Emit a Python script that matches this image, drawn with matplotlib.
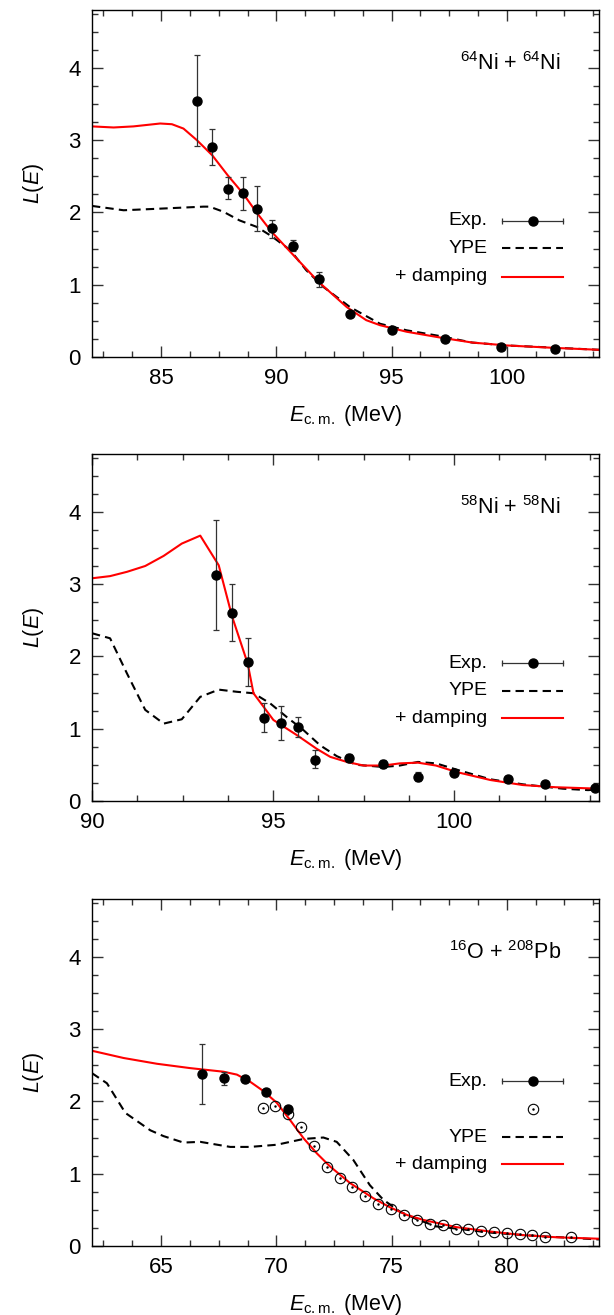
import matplotlib
matplotlib.use('Agg')
import matplotlib.pyplot as plt
from matplotlib.ticker import MultipleLocator

plt.rcParams['font.family'] = ['Liberation Sans', 'DejaVu Sans']
plt.rcParams['mathtext.fontset'] = 'custom'
plt.rcParams['mathtext.rm'] = 'Liberation Sans'
plt.rcParams['mathtext.it'] = 'Liberation Sans:italic'

# ---- 64Ni + 64Ni ----
ni64_exp_e = [86.55, 87.22, 87.9, 88.56, 89.14, 89.8, 90.74, 91.83, 93.2, 95.03, 97.33, 99.75, 102.1]
ni64_exp_l = [3.54, 2.91, 2.33, 2.27, 2.05, 1.78, 1.54, 1.075, 0.59, 0.38, 0.25, 0.135, 0.11]
ni64_exp_lo = [0.62, 0.26, 0.15, 0.24, 0.31, 0.13, 0.07, 0.10, 0.02, 0.01, 0.01, 0.01, 0.01]
ni64_exp_hi = [0.64, 0.25, 0.16, 0.22, 0.32, 0.12, 0.08, 0.10, 0.02, 0.01, 0.01, 0.01, 0.01]

ni64_dmp_e = [82.0, 82.94, 83.8, 84.96, 85.47, 85.97, 86.55, 87.22, 87.9, 88.56, 89.14, 89.8,
              90.74, 91.83, 93.06, 93.9, 94.5, 95.65, 97.1, 98.5, 100.0, 102.16, 104.0]
ni64_dmp_l = [3.19, 3.175, 3.19, 3.23, 3.22, 3.16, 3.0, 2.79, 2.51, 2.26, 2.0, 1.73,
              1.41, 1.04, 0.69, 0.51, 0.44, 0.35, 0.27, 0.2, 0.16, 0.125, 0.10]

ni64_ype_e = [82.0, 83.37, 84.8, 86.84, 87.1, 87.7, 88.4, 89.15, 89.8, 90.6, 91.3, 92.04,
              93.2, 94.5, 95.65, 97.1, 98.5, 100.0, 104.0]
ni64_ype_l = [2.09, 2.03, 2.05, 2.08, 2.08, 2.01, 1.89, 1.8, 1.67, 1.48, 1.2, 0.97,
              0.69, 0.46, 0.37, 0.29, 0.2, 0.16, 0.10]

# ---- 58Ni + 58Ni ----
ni58_exp_e = [93.43, 93.87, 94.31, 94.75, 95.22, 95.68, 96.15, 97.09, 98.05, 99.0, 100.0, 101.5, 102.5, 103.9]
ni58_exp_l = [3.12, 2.60, 1.92, 1.15, 1.08, 1.02, 0.57, 0.595, 0.51, 0.33, 0.38, 0.31, 0.23, 0.185]
ni58_exp_lo = [0.75, 0.39, 0.33, 0.20, 0.23, 0.14, 0.12, 0.055, 0.06, 0.06, 0.03, 0.03, 0.03, 0.03]
ni58_exp_hi = [0.76, 0.40, 0.33, 0.20, 0.23, 0.14, 0.13, 0.06, 0.06, 0.07, 0.03, 0.03, 0.03, 0.03]

ni58_dmp_e = [90.0, 90.5, 90.97, 91.47, 91.98, 92.48, 92.99, 93.5, 93.87, 94.3, 94.46, 95.01, 95.66,
              96.21, 96.58, 97.04, 97.5, 98.05, 98.5, 99.0, 99.5, 100.07, 101.0, 101.9, 102.8, 104.0]
ni58_dmp_l = [3.08, 3.11, 3.17, 3.25, 3.39, 3.56, 3.67, 3.26, 2.55, 1.9, 1.49, 1.12, 0.91,
              0.72, 0.61, 0.54, 0.49, 0.49, 0.52, 0.53, 0.49, 0.40, 0.29, 0.22, 0.19, 0.17]

ni58_ype_e = [90.0, 90.5, 90.97, 91.47, 91.98, 92.48, 92.99, 93.5, 94.0, 94.46, 94.92, 95.38, 95.84,
              96.3, 96.76, 97.3, 98.05, 98.5, 99.0, 99.5, 100.16, 101.0, 101.9, 103.0, 103.7, 104.0]
ni58_ype_l = [2.32, 2.25, 1.76, 1.26, 1.07, 1.13, 1.44, 1.54, 1.51, 1.49, 1.35, 1.16, 0.98,
              0.77, 0.62, 0.50, 0.47, 0.49, 0.54, 0.52, 0.42, 0.30, 0.23, 0.17, 0.15, 0.16]

# ---- 16O + 208Pb ----
opb_exp_e = [66.77, 67.71, 68.62, 69.54, 70.5]
opb_exp_l = [2.38, 2.32, 2.31, 2.13, 1.90]
opb_exp_lo = [0.41, 0.10, 0.04, 0.03, 0.03]
opb_exp_hi = [0.42, 0.08, 0.04, 0.03, 0.03]

opb_exp2_e = [69.4, 69.96, 70.51, 71.09, 71.65, 72.19, 72.75, 73.3, 73.85, 74.41, 74.98, 75.53,
              76.09, 76.67, 77.22, 77.78, 78.33, 78.89, 79.44, 80.0, 80.56, 81.1, 81.67, 82.78]
opb_exp2_l = [1.91, 1.94, 1.82, 1.65, 1.38, 1.09, 0.94, 0.82, 0.69, 0.58, 0.51, 0.43,
              0.36, 0.31, 0.29, 0.24, 0.235, 0.21, 0.19, 0.175, 0.16, 0.15, 0.125, 0.12]

opb_dmp_e = [62.0, 63.37, 64.82, 66.26, 67.71, 68.29, 68.87, 69.45, 70.02, 70.6, 71.18, 71.76,
             72.33, 73.2, 74.21, 74.93, 75.66, 76.38, 77.82, 79.27, 80.71, 82.16, 84.0]
opb_dmp_l = [2.70, 2.60, 2.52, 2.46, 2.41, 2.37, 2.27, 2.14, 1.98, 1.74, 1.49, 1.28,
             1.10, 0.87, 0.66, 0.535, 0.43, 0.36, 0.26, 0.20, 0.15, 0.12, 0.10]

opb_ype_e = [62.0, 62.65, 63.45, 64.53, 65.1, 65.97, 66.7, 68.0, 68.86, 70.02, 71.18, 72.04, 72.62,
             73.34, 74.06, 74.64, 75.36, 76.09, 76.95, 77.82, 79.27, 80.71, 82.88, 84.0]
opb_ype_l = [2.39, 2.25, 1.84, 1.60, 1.52, 1.43, 1.44, 1.37, 1.37, 1.40, 1.48, 1.50, 1.44,
             1.19, 0.84, 0.64, 0.475, 0.37, 0.27, 0.24, 0.185, 0.15, 0.11, 0.09]

RED = '#ff0000'
ECOL = '#333333'
DASH = (4, 2.5)

fig = plt.figure(figsize=(6.14, 13.15), dpi=100)
bottoms = [0.7285, 0.3909, 0.0525]
panels = [
    dict(title=r'$^{64}$Ni + $^{64}$Ni', xlim=(82, 104),
         exp=(ni64_exp_e, ni64_exp_l, ni64_exp_lo, ni64_exp_hi), exp2=None,
         dmp=(ni64_dmp_e, ni64_dmp_l), ype=(ni64_ype_e, ni64_ype_l), leg_y=[0.392, 0.314, 0.231]),
    dict(title=r'$^{58}$Ni + $^{58}$Ni', xlim=(90, 104),
         exp=(ni58_exp_e, ni58_exp_l, ni58_exp_lo, ni58_exp_hi), exp2=None,
         dmp=(ni58_dmp_e, ni58_dmp_l), ype=(ni58_ype_e, ni58_ype_l), leg_y=[0.397, 0.318, 0.238]),
    dict(title=r'$^{16}$O + $^{208}$Pb', xlim=(62, 84),
         exp=(opb_exp_e, opb_exp_l, opb_exp_lo, opb_exp_hi), exp2=(opb_exp2_e, opb_exp2_l),
         dmp=(opb_dmp_e, opb_dmp_l), ype=(opb_ype_e, opb_ype_l), leg_y=[0.474, 0.394, 0.313, 0.236]),
]

for b, p in zip(bottoms, panels):
    ax = fig.add_axes([0.1498, b, 0.8257, 0.2639])
    ax.plot(*p['ype'], color='black', lw=1.5, dashes=DASH)
    ax.plot(*p['dmp'], color=RED, lw=1.5)
    e, l, lo, hi = p['exp']
    ax.errorbar(e, l, yerr=[lo, hi], fmt='none', ecolor=ECOL, elinewidth=0.9, capsize=2.5, capthick=0.9)
    ax.plot(e, l, 'o', color='black', ms=6.5, zorder=5)
    if p['exp2'] is not None:
        ax.plot(*p['exp2'], 'o', mfc='none', mec='black', mew=0.8, ms=7.5, zorder=4)
        ax.plot(*p['exp2'], '.', color='black', ms=1.5, zorder=4)

    ax.set_xlim(*p['xlim'])
    ax.set_ylim(0, 4.8)
    ax.xaxis.set_major_locator(MultipleLocator(5))
    ax.xaxis.set_minor_locator(MultipleLocator(1.25))
    ax.yaxis.set_major_locator(MultipleLocator(1))
    ax.yaxis.set_minor_locator(MultipleLocator(0.25))
    ax.tick_params(which='both', direction='in', top=True, right=True, labelsize=16, color='#333333')
    ax.tick_params(which='major', length=8, width=1.0, pad=8)
    ax.tick_params(which='minor', length=4, width=1.0)
    ax.set_yticks([0, 1, 2, 3, 4])
    for s in ax.spines.values():
        s.set_linewidth(1.0)
    ax.set_xlabel(r'$E_{\rm c.m.}$ (MeV)', fontsize=15.5, labelpad=10)
    ax.set_ylabel(r'$L(E)$', fontsize=15.5, labelpad=16)

    ax.text(0.925, 0.845, p['title'], transform=ax.transAxes, ha='right', va='center', fontsize=15.5)

    # legend drawn by hand, gnuplot style
    ly = p['leg_y']
    x0, x1, xm, xt = 0.809, 0.929, 0.870, 0.780
    ax.text(xt, ly[0], 'Exp.', transform=ax.transAxes, ha='right', va='center', fontsize=14)
    ax.plot([x0, x1], [ly[0], ly[0]], color=ECOL, lw=0.9, transform=ax.transAxes)
    ax.plot([x0, x1], [ly[0], ly[0]], ls='none', marker='|', ms=5, mew=0.9, color=ECOL, transform=ax.transAxes)
    ax.plot([xm], [ly[0]], 'o', color='black', ms=6.5, transform=ax.transAxes)
    k = 1
    if p['exp2'] is not None:
        ax.plot([xm], [ly[1]], 'o', mfc='none', mec='black', mew=0.8, ms=7.5, transform=ax.transAxes)
        ax.plot([xm], [ly[1]], '.', color='black', ms=1.5, transform=ax.transAxes)
        k = 2
    ax.text(xt, ly[k], 'YPE', transform=ax.transAxes, ha='right', va='center', fontsize=14)
    ax.plot([x0, x1], [ly[k], ly[k]], color='black', lw=1.5, dashes=DASH, transform=ax.transAxes)
    ax.text(xt, ly[k + 1], '+ damping', transform=ax.transAxes, ha='right', va='center', fontsize=14)
    ax.plot([x0, x1], [ly[k + 1], ly[k + 1]], color=RED, lw=1.5, transform=ax.transAxes)

fig.savefig('out.png', dpi=100)
